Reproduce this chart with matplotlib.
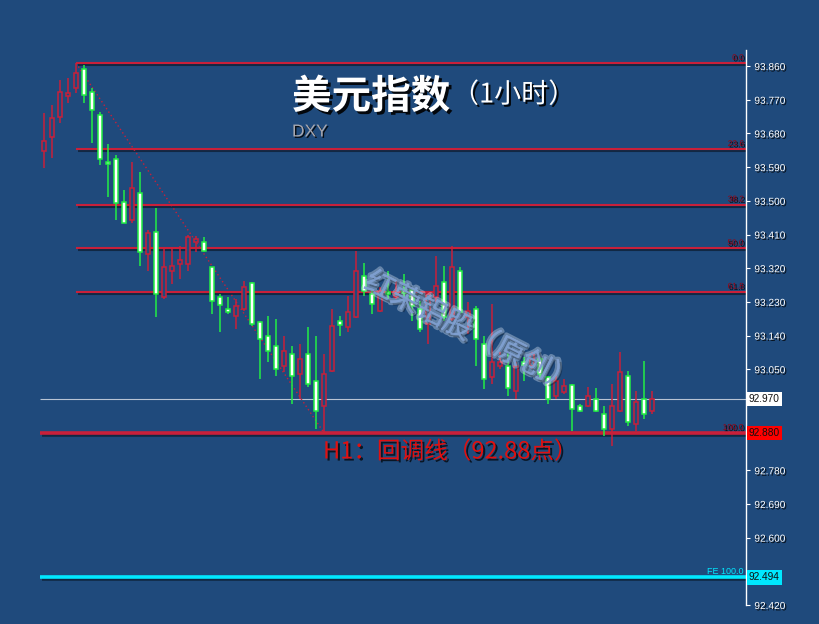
import matplotlib
matplotlib.use("Agg")
import matplotlib.pyplot as plt
import matplotlib.patheffects as pe

# hourly DXY candles (oldest first)
opens = [93.634, 93.671, 93.724, 93.780, 93.801, 93.852, 93.791, 93.730, 93.604, 93.612,
         93.498, 93.450, 93.522, 93.357, 93.418, 93.242, 93.312, 93.330, 93.330, 93.389,
         93.389, 93.322, 93.242, 93.210, 93.192, 93.210, 93.280, 93.176, 93.138, 93.112,
         93.059, 93.091, 93.037, 93.091, 93.019, 92.952, 93.045, 93.178, 93.162, 93.189,
         93.298, 93.250, 93.205, 93.256, 93.242, 93.261, 93.261, 93.210, 93.170, 93.242,
         93.282, 93.184, 93.312, 93.189, 93.210, 93.117, 93.029, 93.059, 93.059, 92.992,
         93.069, 93.059, 93.077, 93.030, 92.979, 92.989, 93.009, 92.952, 92.952, 92.970,
         92.931, 92.891, 92.939, 93.032, 92.904, 92.970, 92.939]
highs = [93.735, 93.756, 93.823, 93.828, 93.868, 93.863, 93.801, 93.738, 93.652, 93.623,
         93.530, 93.604, 93.578, 93.423, 93.482, 93.370, 93.375, 93.378, 93.410, 93.405,
         93.402, 93.324, 93.250, 93.242, 93.237, 93.285, 93.282, 93.178, 93.192, 93.184,
         93.138, 93.112, 93.117, 93.162, 93.138, 93.091, 93.210, 93.192, 93.245, 93.365,
         93.335, 93.264, 93.269, 93.312, 93.285, 93.304, 93.264, 93.232, 93.256, 93.352,
         93.325, 93.378, 93.322, 93.229, 93.218, 93.138, 93.224, 93.096, 93.096, 93.069,
         93.083, 93.096, 93.083, 93.032, 93.037, 93.024, 93.011, 92.957, 93.003, 93.000,
         92.952, 93.011, 93.096, 93.045, 92.992, 93.072, 92.992]
lows = [93.588, 93.615, 93.708, 93.761, 93.788, 93.761, 93.655, 93.596, 93.509, 93.450,
        93.440, 93.442, 93.325, 93.312, 93.189, 93.237, 93.277, 93.290, 93.312, 93.362,
        93.362, 93.197, 93.149, 93.197, 93.157, 93.205, 93.165, 93.024, 93.069, 93.032,
        93.043, 92.957, 92.970, 93.003, 92.891, 92.880, 93.043, 93.138, 93.149, 93.186,
        93.245, 93.197, 93.202, 93.237, 93.237, 93.232, 93.178, 93.149, 93.117, 93.224,
        93.178, 93.178, 93.197, 93.144, 93.059, 92.997, 93.011, 93.051, 92.979, 92.970,
        93.019, 93.051, 93.024, 92.957, 92.970, 92.984, 92.886, 92.936, 92.949, 92.937,
        92.872, 92.846, 92.936, 92.899, 92.886, 92.917, 92.931]
closes = [93.660, 93.722, 93.791, 93.788, 93.841, 93.783, 93.743, 93.612, 93.599, 93.495,
          93.442, 93.535, 93.362, 93.415, 93.250, 93.322, 93.325, 93.343, 93.402, 93.397,
          93.367, 93.232, 93.221, 93.202, 93.218, 93.269, 93.170, 93.130, 93.099, 93.051,
          93.099, 93.032, 93.077, 93.011, 92.939, 93.037, 93.165, 93.168, 93.202, 93.312,
          93.258, 93.224, 93.258, 93.250, 93.250, 93.253, 93.218, 93.157, 93.250, 93.272,
          93.189, 93.322, 93.202, 93.205, 93.130, 93.024, 93.069, 93.069, 93.000, 93.059,
          93.061, 93.091, 93.037, 92.970, 93.019, 93.005, 92.944, 92.939, 92.979, 92.939,
          92.891, 92.952, 93.043, 92.909, 92.963, 92.931, 92.970]

fib_labels = ["0.0", "23.6", "38.2", "50.0", "61.8"]
fib_levels = [93.868, 93.638, 93.490, 93.373, 93.257]
pullback_level = 92.880   # H1 回调线 / fib 100.0
last_price = 92.970
fe_level = 92.494

yticks = [93.860, 93.770, 93.680, 93.590, 93.500, 93.410, 93.320, 93.230, 93.140,
          93.050, 92.960, 92.870, 92.780, 92.690, 92.600, 92.510, 92.420]
# these three sit under the price boxes on the axis
hidden_ticks = [92.960, 92.870, 92.510]

BG = "#1f4a7c"
RED = "#c8203a"
GREEN = "#22ee44"
CYAN = "#00e8ff"

plt.rcParams["font.family"] = ["Noto Sans CJK SC", "DejaVu Sans"]

fig = plt.figure(figsize=(8.2, 6.24), dpi=100, facecolor=BG)
ax = fig.add_axes([0, 19 / 624, 746 / 820, 555 / 624])
ax.set_facecolor(BG)
ax.set_xlim(-5.5, 87.75)
ax.set_ylim(92.425, 93.903)

shadow = [pe.SimpleLineShadow(offset=(1.5, -1.5), shadow_color="black", alpha=0.45), pe.Normal()]
tshadow = [pe.withSimplePatchShadow(offset=(1, -1), shadow_rgbFace="black", alpha=0.85)]

# horizontal levels
x_end = 87.75
ax.hlines(fib_levels, 4, x_end, color=RED, lw=1.5, zorder=2, path_effects=shadow)
ax.hlines(pullback_level, -0.5, x_end, color=RED, lw=2.6, zorder=2, path_effects=shadow)
ax.hlines(last_price, -0.5, x_end, color="#b8c4d4", lw=0.8, zorder=2)
ax.hlines(fe_level, -0.5, x_end, color=CYAN, lw=2.6, zorder=2, path_effects=shadow)
for lab, lv in zip(fib_labels + ["100.0"], fib_levels + [pullback_level]):
    ax.text(87.5, lv + 0.003, lab, color="#9a0010", fontsize=6, ha="right", va="bottom",
            family="Liberation Sans", zorder=3, path_effects=tshadow)
ax.text(87.5, fe_level + 0.004, "FE 100.0", color=CYAN, fontsize=6.5, ha="right", va="bottom",
        family="Liberation Sans", zorder=3)

# fib trend line, high -> low
ax.plot([4, 35], [highs[4], lows[35]], color=RED, lw=1, ls=(0, (1, 2)), zorder=2)

# candles: red hollow = up, green/white = down
for i, (o, h, l, c) in enumerate(zip(opens, highs, lows, closes)):
    up = c >= o
    col = RED if up else GREEN
    ax.vlines(i, l, h, color=col, lw=1.1, zorder=3)
    ax.bar(i, max(abs(c - o), 0.002), bottom=min(o, c), width=0.62,
           color=BG if up else "white", edgecolor=col, lw=1.1, zorder=4)

# right price axis
for s in ["left", "top", "bottom"]:
    ax.spines[s].set_visible(False)
ax.spines["right"].set_color("white")
ax.spines["right"].set_linewidth(1)
ax.set_xticks([])
ax.yaxis.tick_right()
ax.set_yticks(yticks)
ax.set_yticklabels(["" if t in hidden_ticks else f"{t:.3f}" for t in yticks])
ax.tick_params(axis="y", colors="white", labelsize=7.3, length=3, width=0.8, pad=3)
for t in ax.get_yticklabels():
    t.set_family("Liberation Sans")
    t.set_path_effects(tshadow)

ytr = ax.get_yaxis_transform()
for val, fc in [(last_price, "white"), (pullback_level, "#ff0000"), (fe_level, CYAN)]:
    ax.text(1.004, val, f"{val:.3f}", transform=ytr, ha="left", va="center", fontsize=7.3,
            family="Liberation Sans", color="#101010", clip_on=False, zorder=10,
            bbox=dict(boxstyle="square,pad=0.22", fc=fc, ec="none"))

# titles / annotations (pixel positions of the screenshot)
def fx(px):
    return px / 820

def fy(py):
    return 1 - py / 624

fig.text(fx(292), fy(97), "美元指数", color="white", fontsize=28.5, fontweight="bold",
         ha="left", va="center",
         path_effects=[pe.withSimplePatchShadow(offset=(2, -2), shadow_rgbFace="black", alpha=0.9)])
fig.text(fx(452), fy(95), "（1小时）", color="white", fontsize=19.5, ha="left", va="center",
         path_effects=[pe.withSimplePatchShadow(offset=(1.5, -1.5), shadow_rgbFace="black", alpha=0.9)])
fig.text(fx(292), fy(132), "DXY", color="#a8a8b0", fontsize=12.5, family="Liberation Sans",
         ha="left", va="center", path_effects=tshadow)
fig.text(fx(323), fy(452), "H1：回调线（92.88点）", color="#e01010", fontsize=17,
         ha="left", va="center",
         path_effects=[pe.withSimplePatchShadow(offset=(1.5, -1.5), shadow_rgbFace="black", alpha=0.7)])
fig.text(fx(470), fy(333), "红荣铝股（原创）", color="#7f9fd0", fontsize=21, rotation=-27,
         ha="center", va="center", rotation_mode="anchor", zorder=20, alpha=0.85,
         path_effects=[pe.withStroke(linewidth=3.5, foreground="#e8f2ff", alpha=0.35),
                       pe.withSimplePatchShadow(offset=(2, -2), shadow_rgbFace="black", alpha=0.25)])

fig.savefig("out.png", dpi=100, facecolor=BG)
